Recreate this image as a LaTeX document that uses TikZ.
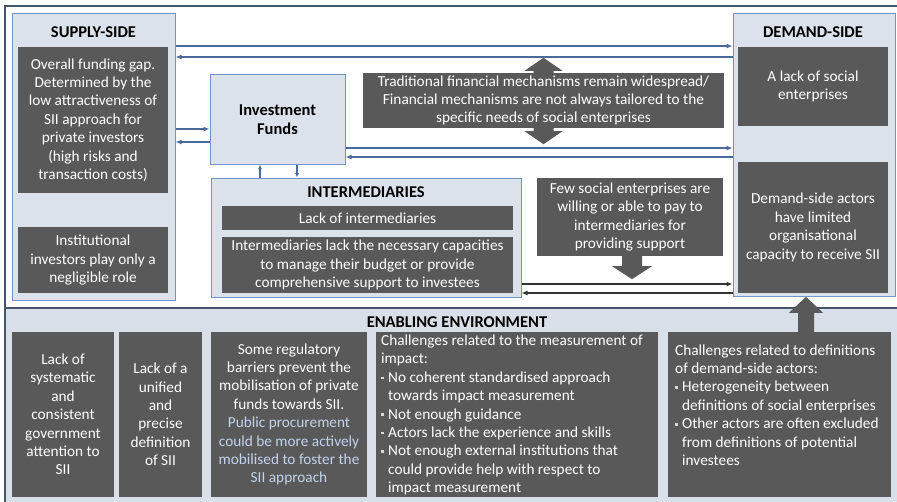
\documentclass[tikz,border=0pt]{standalone}
\usepackage{fontspec}
\setmainfont{Carlito}
\usetikzlibrary{arrows.meta,calc}
\definecolor{darkfill}{HTML}{595959}
\definecolor{lightfill}{HTML}{DCE2EC}
\definecolor{boxline}{HTML}{7392C6}
\definecolor{frameline}{HTML}{44546A}
\definecolor{arrowblue}{HTML}{4A6A9C}
\definecolor{lighttext}{HTML}{C2D3EE}
\definecolor{envfill}{HTML}{D9DFE9}
\newcommand\bodyfont{\fontsize{15.3}{18.4}\selectfont}
\newcommand\titlefont{\fontsize{16.5}{19}\selectfont\bfseries}
\newcommand\bul{\makebox[7pt][l]{\raisebox{3pt}{\color{white!85!black}\rule{2.6pt}{2.6pt}}}}
\newcommand\hind{\hspace*{7pt}}
\begin{document}
\begin{tikzpicture}[x=1pt,y=-1pt,
  span/.style args={#1/#2/#3/#4}{minimum width={(#3)-(#1)}, minimum height={(#4)-(#2)}, at={({((#1)+(#3))/2},{((#2)+(#4))/2})}},
  lightbox/.style={draw=boxline, line width=1pt, fill=lightfill, inner sep=0pt},
  darkbox/.style={fill=darkfill, text=white, inner sep=0pt, align=center, font=\bodyfont},
  textonly/.style={text=white, inner sep=0pt, align=left, font=\bodyfont},
  titletext/.style={inner sep=0pt, font=\titlefont, text=black},
  bluearrow/.style={draw=arrowblue, line width=1.6pt, -{Latex[length=6pt,width=5pt]}},
  blackarrow/.style={draw=black!80, line width=1.3pt, -{Latex[length=6pt,width=5pt]}},
  blockarrow/.style={fill=darkfill}
]
\useasboundingbox (0,0) rectangle (897,501);
\clip (0,0) rectangle (897,501);
% frames
\node[draw=frameline, line width=1.5pt, fill=white, inner sep=0pt, span=5/6/910/308] (upperframe) {};
\node[draw=frameline, line width=1.5pt, fill=envfill, inner sep=0pt, span=5/308/910/515] (lowerframe) {};

% supply side
\node[lightbox, span=12/13/175/300] (supply) {};
\node[titletext] (supplytitle) at (93.5,32) {SUPPLY-SIDE};
\node[darkbox, span=18/47/168/193] (gap) {Overall funding gap.\\Determined by the\\low attractiveness of\\SII approach for\\private investors\\(high risks and\\transaction costs)};
\node[darkbox, span=18/227/168/293] (inst) {Institutional\\investors play only a\\negligible role};

% investment funds
\node[lightbox, span=210/74/345/164] (funds) {};
\node[titletext, align=center] (fundstitle) at (277.5,120) {Investment\\Funds};

% intermediaries
\node[lightbox, span=211/178/521/297] (inter) {};
\node[titletext] (intertitle) at (366,192) {INTERMEDIARIES};
\node[darkbox, span=222/206/513/230] (lackint) {Lack of intermediaries};
\node[darkbox, span=222/237/513/293] (intcap) {Intermediaries lack the necessary capacities\\to manage their budget or provide\\comprehensive support to investees};

% traditional mechanisms
\node[darkbox, span=363/73/724/128] (trad) {Traditional financial mechanisms remain widespread/\\Financial mechanisms are not always tailored to the\\specific needs of social enterprises};
\fill[blockarrow] ([xshift=-10pt]trad.north) -- ++(0,-2) -- ++(-9,0) -- ++(19,-13) -- ++(19,13) -- ++(-9,0) -- ++(0,2) -- cycle;
\fill[blockarrow] ([xshift=-10pt]trad.south) -- ++(0,3) -- ++(-9,0) -- ++(19,13) -- ++(19,-13) -- ++(-9,0) -- ++(0,-3) -- cycle;

% few social enterprises
\node[darkbox, span=537/178/723/256] (few) {Few social enterprises are\\willing or able to pay to\\intermediaries for\\providing support};
\fill[blockarrow] ([xshift=-8pt]few.south) -- ++(0,10) -- ++(-10,0) -- ++(20,13) -- ++(20,-13) -- ++(-10,0) -- ++(0,-10) -- cycle;

% demand side
\node[lightbox, span=733/13/895/296] (demand) {};
\node[titletext] (demandtitle) at (813,32) {DEMAND-SIDE};
\node[darkbox, span=738/47/888/126] (lackse) {A lack of social\\enterprises};
\node[darkbox, span=738/162/888/293] (dsa) {Demand-side actors\\have limited\\organisational\\capacity to receive SII};

% connectors
\draw[bluearrow] (supply.east |- 0,46) -- (demand.west |- 0,46);
\draw[bluearrow] (demand.west |- 0,57) -- (supply.east |- 0,57);
\draw[bluearrow] (supply.east |- 0,129) -- (funds.west |- 0,129);
\draw[bluearrow] (funds.west |- 0,142) -- (supply.east |- 0,142);
\draw[bluearrow] (funds.east |- 0,148) -- (demand.west |- 0,148);
\draw[bluearrow] (demand.west |- 0,157) -- (funds.east |- 0,157);
\draw[bluearrow, line width=1.3pt, -{Latex[length=4.5pt,width=4pt]}] (inter.north -| 260,0) -- (funds.south -| 260,0);
\draw[bluearrow, line width=1.3pt, -{Latex[length=4.5pt,width=4pt]}] (funds.south -| 297,0) -- (inter.north -| 297,0);
\draw[blackarrow] (inter.east |- 0,284) -- (demand.west |- 0,284);
\draw[blackarrow] (demand.west |- 0,293) -- (inter.east |- 0,293);

% enabling environment
\node[titletext] (envtitle) at (457,322) {ENABLING ENVIRONMENT};
\node[darkbox, span=12/332/114/497] (e1) {Lack of\\systematic\\and\\consistent\\government\\attention to\\SII};
\node[darkbox, span=119/332/202/497] (e2) {Lack of a\\unified\\and\\precise\\definition\\of SII};
\node[darkbox, span=211/332/367/497] (e3) {Some regulatory\\barriers prevent the\\mobilisation of private\\funds towards SII.\\\textcolor{lighttext}{Public procurement}\\\textcolor{lighttext}{could be more actively}\\\textcolor{lighttext}{mobilised to foster the}\\\textcolor{lighttext}{SII approach}};
\node[darkbox, span=376/332/658/497] (e4) {};
\node[textonly, anchor=west] (e4text) at (381,415) {Challenges related to the measurement of\\impact:\\\bul No coherent standardised approach\\\hind towards impact measurement\\\bul Not enough guidance\\\bul Actors lack the experience and skills\\\bul Not enough external institutions that\\\hind could provide help with respect to\\\hind impact measurement};
\node[darkbox, span=668/332/891/497] (e5) {};
\node[textonly, anchor=west] (e5text) at (675,405) {Challenges related to definitions\\of demand-side actors:\\\bul Heterogeneity between\\\hind definitions of social enterprises\\\bul Other actors are often excluded\\\hind from definitions of potential\\\hind investees};
\fill[blockarrow] ([xshift=18.5pt]e5.north) -- ++(0,-19) -- ++(-9,0) -- ++(17,-16) -- ++(17,16) -- ++(-9,0) -- ++(0,19) -- cycle;
\end{tikzpicture}
\end{document}
